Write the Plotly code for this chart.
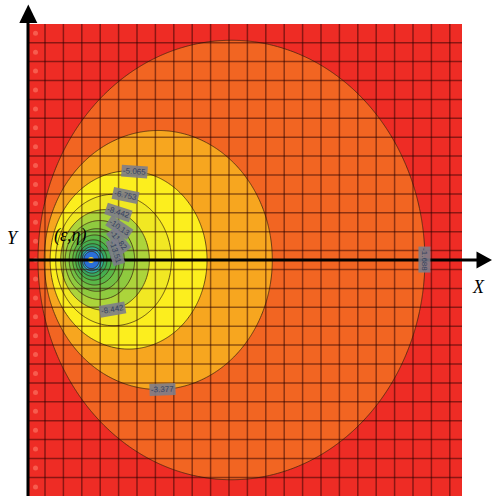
import numpy as np
import plotly.graph_objects as go

# ---------------- data ----------------
SOURCE_EPS = 3.424          # ε : distance of the source point from the boundary (grid units)
SOURCE_ETA = 0.0            # η
FIELD_SCALE = 8.137         # multiplier of ln(r1/r2)
FIELD_OFFSET = 0.917
LEVEL_STEP = 1.6884
N_LEVELS = 13

LABEL_LEVELS = [-1.688, -3.377, -5.065, -6.753, -8.442, -10.13, -11.82, -13.51, -8.442]
LABEL_ANGLES = [0, -88, 86, 78, 72, 56, 38, 18, -80]

BAND_COLORS = [  # innermost (lowest) -> outermost (highest)
    "#2a6fd8", "#2aa3e0", "#2fae9a", "#37a860", "#45ae4f", "#5ab748",
    "#72bf44", "#8fca3f", "#acd43b", "#f1e823", "#fcee1e", "#f7a61f",
    "#f26522", "#ee2c25",
]

# ---------------- pixel <-> data helpers (layout only) ----------------
W, H = 493, 496
X0_PX, PX_PER_X = 28.0, 18.4
Y0_PX, PX_PER_Y = 260.0, 20.9


def dx(px):
    return (px - X0_PX) / PX_PER_X


def dy(py):
    return (Y0_PX - py) / PX_PER_Y


# ---------------- field ----------------
xs = np.linspace(0.0, dx(462), 440)
ys = np.linspace(dy(496), dy(24), 460)
XX, YY = np.meshgrid(xs, ys)
r1 = np.hypot(XX - SOURCE_EPS, YY - SOURCE_ETA)
r2 = np.hypot(XX + SOURCE_EPS, YY - SOURCE_ETA)
Z = FIELD_SCALE * np.log(np.maximum(r1, 1e-6) / r2) + FIELD_OFFSET
Z = np.clip(Z, -40, None).astype(np.float32)

n = len(BAND_COLORS) - 1
cscale = []
for j, c in enumerate(BAND_COLORS):
    lo = 0.0 if j == 0 else (j - 0.5) / n
    hi = 1.0 if j == n else (j + 0.5) / n
    cscale.append([lo, c])
    cscale.append([hi, c])

fig = go.Figure()
fig.add_trace(go.Contour(
    x=xs, y=ys, z=Z,
    autocontour=False,
    contours=dict(start=-N_LEVELS * LEVEL_STEP, end=-LEVEL_STEP, size=LEVEL_STEP,
                  coloring="fill", showlines=True),
    colorscale=cscale, showscale=False,
    line=dict(color="rgba(60,35,15,0.85)", width=0.9),
    hoverinfo="skip",
))

# grid lines (drawn above the filled contours)
xg = 0.924 + np.arange(23)
yg = [dy(42.7 + 18.9 * k) for k in range(24)]
gx, gy = [], []
for v in xg:
    gx += [v, v, None]
    gy += [dy(496), dy(24), None]
for v in yg:
    gx += [0.0, dx(462), None]
    gy += [v, v, None]
fig.add_trace(go.Scatter(x=gx, y=gy, mode="lines",
                         line=dict(color="rgba(40,0,0,0.5)", width=1.5),
                         hoverinfo="skip"))

# faint light spots in the first column
spot_y = [dy(33.3 + 18.9 * k) for k in range(25)]
fig.add_trace(go.Scatter(x=[dx(35.5)] * len(spot_y), y=spot_y, mode="markers",
                         marker=dict(size=5, color="rgba(255,140,120,0.5)"),
                         hoverinfo="skip"))

# source point
fig.add_trace(go.Scatter(x=[SOURCE_EPS], y=[SOURCE_ETA], mode="markers",
                         marker=dict(size=6, color="#f5d33a"), hoverinfo="skip"))

# contour labels
annotations = []
for L, ang in zip(LABEL_LEVELS, LABEL_ANGLES):
    k = np.exp((L - FIELD_OFFSET) / FIELD_SCALE)
    cx = SOURCE_EPS * (1 + k * k) / (1 - k * k)
    r = 2 * SOURCE_EPS * k / (1 - k * k)
    t = np.radians(ang)
    ta = 90 - ang
    if ta > 90:
        ta -= 180
    annotations.append(dict(
        x=cx + r * np.cos(t), y=SOURCE_ETA + r * np.sin(t), xref="x", yref="y",
        text=f"{L:.4g}", showarrow=False, textangle=ta,
        font=dict(size=8, color="#34425e", family="Liberation Sans"),
        bgcolor="rgba(125,125,138,0.9)", borderpad=1,
    ))

serif = dict(family="Liberation Serif", size=18, color="black")
annotations += [
    dict(x=dx(12.5), y=dy(238), text="<i>Y</i>", showarrow=False, font=serif),
    dict(x=dx(478.5), y=dy(287), text="<i>X</i>", showarrow=False, font=serif),
    dict(x=dx(70), y=dy(235), text="<i>(ε,η)</i>", showarrow=False, font=serif),
]

shapes = [
    dict(type="line", x0=dx(28), x1=dx(28), y0=dy(497), y1=dy(18),
         line=dict(color="black", width=3), layer="above"),
    dict(type="path", layer="above", fillcolor="black", line=dict(width=0),
         path=f"M {dx(28.3)},{dy(4.5)} L {dx(19.3)},{dy(23)} L {dx(37.3)},{dy(23)} Z"),
    dict(type="line", x0=dx(27), x1=dx(480), y0=dy(260), y1=dy(260),
         line=dict(color="black", width=3), layer="above"),
    dict(type="path", layer="above", fillcolor="black", line=dict(width=0),
         path=f"M {dx(492)},{dy(260)} L {dx(476.5)},{dy(251.5)} L {dx(476.5)},{dy(268.5)} Z"),
]

fig.update_layout(
    width=W, height=H, margin=dict(l=0, r=0, t=0, b=0),
    paper_bgcolor="white", plot_bgcolor="white", showlegend=False,
    xaxis=dict(range=[dx(0), dx(W)], visible=False, fixedrange=True),
    yaxis=dict(range=[dy(H), dy(0)], visible=False, fixedrange=True),
    annotations=annotations, shapes=shapes,
)

fig.write_html("out.html", config={"displayModeBar": False},
               post_script="document.body.style.margin='0px';")
